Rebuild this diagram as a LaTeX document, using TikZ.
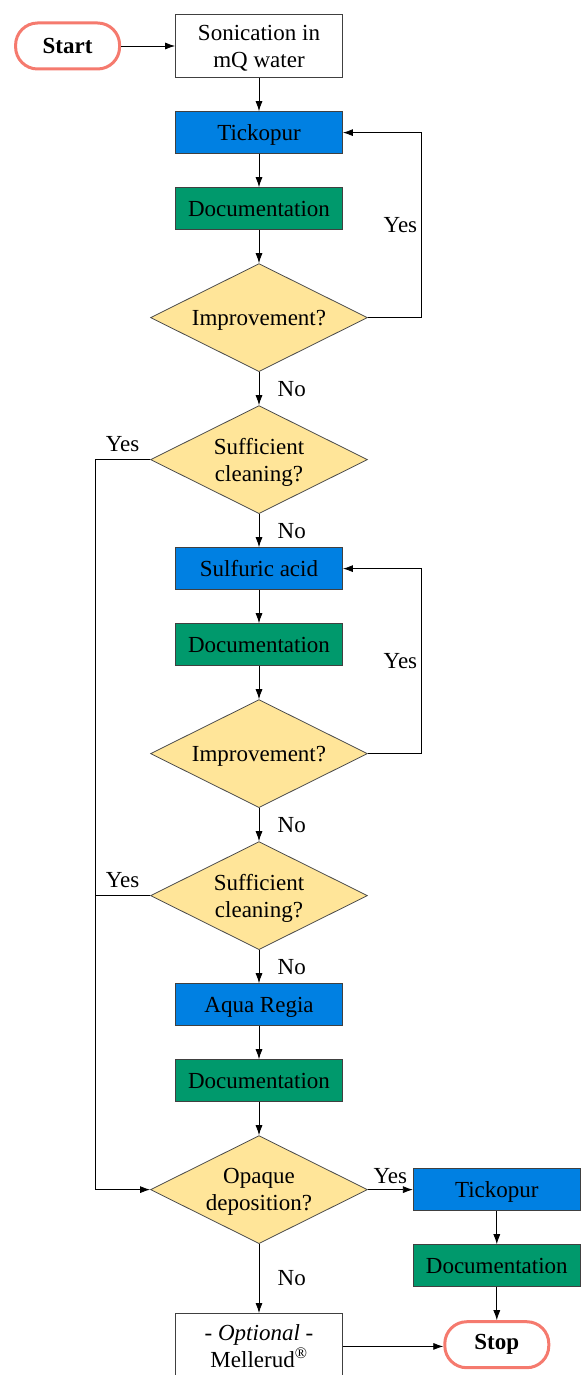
\documentclass[tikz,border=0pt]{standalone}
\usepackage{fontspec}
\setmainfont{Liberation Serif}
\usetikzlibrary{arrows.meta,shapes.geometric,positioning}
\definecolor{procblue}{RGB}{0,128,226}
\definecolor{docgreen}{RGB}{0,153,108}
\definecolor{askyellow}{RGB}{255,229,153}
\definecolor{termred}{RGB}{245,122,110}
\newcommand{\flowfont}{\fontsize{23}{27}\selectfont}
\tikzstyle{term} = [rectangle, draw=termred, line width=3pt, rounded corners=22pt,
    minimum width=104pt, minimum height=46pt, font=\flowfont\bfseries]
\tikzstyle{proc} = [rectangle, draw=black!75, fill=procblue, minimum width=167pt,
    minimum height=42pt, text depth=0pt]
\tikzstyle{docu} = [proc, fill=docgreen]
\tikzstyle{plain} = [proc, fill=white, align=center, inner ysep=10.5pt]
\tikzstyle{ask} = [diamond, aspect=2, draw=black!70, fill=askyellow, minimum width=217pt,
    minimum height=108pt, inner sep=0pt, align=center, text depth=0pt]

\begin{document}
\begin{tikzpicture}[x=1pt,y=1pt,->,>={Latex[length=10pt,width=7pt]},line width=0.8pt,
                    node distance=33.2pt,font=\flowfont]
  \useasboundingbox (0,0) rectangle (582,-1375);
  \node[plain]  (son)   at (259,-46)          {Sonication in\\mQ water};
  \node[term]   (start) [left=54pt of son]    {Start};
  \node[proc]   (tick1) [below=of son]        {Tickopur};
  \node[docu]   (doc1)  [below=of tick1]      {Documentation};
  \node[ask]    (imp1)  [below=of doc1]       {Improvement?};
  \node[ask]    (suff1) [below=of imp1]       {Sufficient\\cleaning?};
  \node[proc]   (sulf)  [below=of suff1]      {Sulfuric acid};
  \node[docu]   (doc2)  [below=of sulf]       {Documentation};
  \node[ask]    (imp2)  [below=of doc2]       {Improvement?};
  \node[ask]    (suff2) [below=of imp2]       {Sufficient\\cleaning?};
  \node[proc]   (aqua)  [below=of suff2]      {Aqua Regia};
  \node[docu]   (doc3)  [below=of aqua]       {Documentation};
  \node[ask]    (opq)   [below=of doc3]       {Opaque\\deposition?};
  \node[plain,minimum height=66pt] (opt) [below=69pt of opq] {- \textit{Optional} -\\Mellerud\textsuperscript{\textregistered}};
  \node[proc]   (tick2) [right=45pt of opq]   {Tickopur};
  \node[docu]   (doc4)  [below=of tick2]      {Documentation};
  \node[term]   (stop)  [below=of doc4]       {Stop};
  \coordinate[left=55pt of suff1.west] (bus1);
  \coordinate[left=55pt of suff2.west] (bus2);

  \draw (start) -- (son);
  \draw (son) -- (tick1);
  \draw (tick1) -- (doc1);
  \draw (doc1) -- (imp1);
  \draw (imp1.east) -- ++(53,0) |- node[pos=.25,left] {Yes} (tick1.east);
  \draw (imp1) -- node[right,xshift=15pt] {No} (suff1);
  \draw (suff1.west) -- node[above,yshift=4pt] {Yes} (bus1) |- (opq.west);
  \draw (suff1) -- node[right,xshift=15pt] {No} (sulf);
  \draw (sulf) -- (doc2);
  \draw (doc2) -- (imp2);
  \draw (imp2.east) -- ++(53,0) |- node[pos=.25,left] {Yes} (sulf.east);
  \draw (imp2) -- node[right,xshift=15pt] {No} (suff2);
  \draw[-] (suff2.west) -- node[above,yshift=4pt] {Yes} (bus2);
  \draw (suff2) -- node[right,xshift=15pt] {No} (aqua);
  \draw (aqua) -- (doc3);
  \draw (doc3) -- (opq);
  \draw (opq) -- node[above,yshift=2pt] {Yes} (tick2);
  \draw (opq) -- node[right,xshift=15pt] {No} (opt);
  \draw (tick2) -- (doc4);
  \draw (doc4) -- (stop);
  \draw (opt.east) -- (opt.east -| stop.west);
\end{tikzpicture}
\end{document}
